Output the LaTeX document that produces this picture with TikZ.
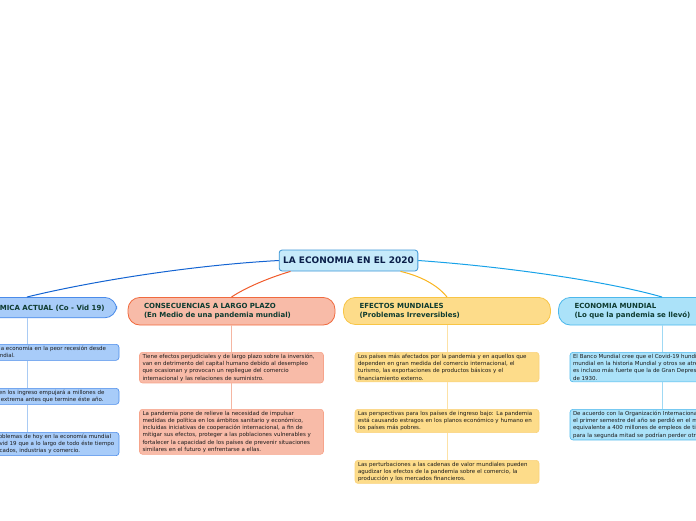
\documentclass[tikz,border=0pt]{standalone}
\usepackage{fontspec}
\setmainfont{DejaVu Sans}

\definecolor{rootfill}{HTML}{C6EAFA}
\definecolor{rootline}{HTML}{3D97D6}
\definecolor{rootink}{HTML}{0B1F4A}
\definecolor{headink}{HTML}{0E3B30}
\definecolor{leafink}{HTML}{1A1A1A}
% one colour set per branch
\definecolor{blueline}{HTML}{1464D2}
\definecolor{bluefill}{HTML}{A8CCF9}
\definecolor{blueedge}{HTML}{4A8BEA}
\definecolor{bluestem}{HTML}{A9CBF4}
\definecolor{redline}{HTML}{F05A2A}
\definecolor{redfill}{HTML}{F8BBA8}
\definecolor{rededge}{HTML}{F06A3E}
\definecolor{redleaf}{HTML}{F6A48B}
\definecolor{redstem}{HTML}{F5B6A2}
\definecolor{yelline}{HTML}{F9B41E}
\definecolor{yelfill}{HTML}{FDDC8A}
\definecolor{yeledge}{HTML}{F8C545}
\definecolor{yelleaf}{HTML}{FAD27A}
\definecolor{yelstem}{HTML}{FDE2A6}
\definecolor{cyaline}{HTML}{18A2E8}
\definecolor{cyafill}{HTML}{ABE2F9}
\definecolor{cyaedge}{HTML}{4CB8EC}
\definecolor{cyastem}{HTML}{9FD9F4}

\tikzset{
  root/.style={draw=rootline, fill=rootfill, rounded corners=3pt, line width=0.8pt,
    inner xsep=4pt, minimum height=21pt, text=rootink,
    font=\fontsize{9}{11}\selectfont\bfseries},
  headbox/.style={rounded corners=12pt, line width=0.8pt, text=headink, align=left,
    inner xsep=16pt, inner ysep=6pt, font=\fontsize{7}{9}\selectfont\bfseries},
  head/.style={headbox, text width=175pt, anchor=north},
  leaf/.style={rounded corners=3pt, line width=0.6pt, text=leafink, align=left,
    inner xsep=3pt, inner ysep=1.6pt, text width=178pt, anchor=north,
    font=\fontsize{5.5}{7.3}\selectfont},
  stem/.style={line width=0.8pt}
}

\begin{document}
\begin{tikzpicture}[x=1pt, y=-1pt]

    \useasboundingbox (0,0) rectangle (696,520);
    \clip (0,0) rectangle (696,520);

    % centre
    \node[root] (root) at (348.5,260.5) {LA ECONOMIA EN EL 2020};

    % situacion actual
    \node[headbox, draw=blueedge, fill=bluefill, anchor=north east, inner xsep=12pt, inner ysep=6.5pt] (blue) at (117,297)
        {SITUACIÓN ECONÓMICA ACTUAL (Co - Vid 19)};
    \node[leaf, draw=blueedge, fill=bluefill] (blue1) at (27,344)
        {La pandemia sumió a la economía en la peor recesión desde\\la Segunda Guerra Mundial.};
    \node[leaf, draw=blueedge, fill=bluefill] (blue2) at (27,388)
        {La pronunciada caída en los ingreso empujará a millones de\\personas a la pobreza extrema antes que termine éste año.};
    \node[leaf, draw=blueedge, fill=bluefill] (blue3) at (27,432)
        {Uno de los grandes problemas de hoy en la economía mundial\\es la pandemia del Covid 19 que a lo largo de todo éste tiempo\\ha golpeado a los mercados, industrias y comercio.};

    % consecuencias
    \node[head, draw=rededge, fill=redfill] (red) at (231.5,297)
        {CONSECUENCIAS A LARGO PLAZO\\(En Medio de una pandemia mundial)};
    \node[leaf, draw=redleaf, fill=redfill] (red1) at (231.5,352)
        {Tiene efectos perjudiciales y de largo plazo sobre la inversión,\\van en detrimento del capital humano debido al desempleo\\que ocasionan y provocan un repliegue del comercio\\internacional y las relaciones de suministro.};
    \node[leaf, draw=redleaf, fill=redfill] (red2) at (231.5,409)
        {La pandemia pone de relieve la necesidad de impulsar\\medidas de política en los ámbitos sanitario y económico,\\incluidas iniciativas de cooperación internacional, a fin de\\mitigar sus efectos, proteger a las poblaciones vulnerables y\\fortalecer la capacidad de los países de prevenir situaciones\\similares en el futuro y enfrentarse a ellas.};

    % efectos
    \node[head, draw=yeledge, fill=yelfill] (yel) at (447,297)
        {EFECTOS MUNDIALES\\(Problemas Irreversibles)};
    \node[leaf, draw=yelleaf, fill=yelfill] (yel1) at (447,352)
        {Los países más afectados por la pandemia y en aquellos que\\dependen en gran medida del comercio internacional, el\\turismo, las exportaciones de productos básicos y el\\financiamiento externo.};
    \node[leaf, draw=yelleaf, fill=yelfill] (yel2) at (447,409)
        {Las perspectivas para los países de ingreso bajo: La pandemia\\está causando estragos en los planos económico y humano en\\los países más pobres.};
    \node[leaf, draw=yelleaf, fill=yelfill] (yel3) at (447,460)
        {Las perturbaciones a las cadenas de valor mundiales pueden\\agudizar los efectos de la pandemia sobre el comercio, la\\producción y los mercados financieros.};

    % economia mundial
    \node[head, draw=cyaedge, fill=cyafill] (cya) at (662,297)
        {ECONOMIA MUNDIAL\\(Lo que la pandemia se llevó)};
    \node[leaf, draw=cyaedge, fill=cyafill] (cya1) at (662,352)
        {El Banco Mundial cree que el Covid-19 hundirá la economía\\mundial en la historia Mundial y otros se atreven a decir que\\es incluso más fuerte que la de Gran Depresión\\de 1930.};
    \node[leaf, draw=cyaedge, fill=cyafill] (cya2) at (662,409)
        {De acuerdo con la Organización Internacional del Trabajo, en\\el primer semestre del año se perdió en el mundo el\\equivalente a 400 millones de empleos de tiempo completo y\\para la segunda mitad se podrían perder otros 140 millones.};

    % branches from the centre
    \draw[blueline, line width=1pt] (root.west) .. controls (180,266) and (80,284) .. (blue1 |- blue.north);
    \draw[redline, line width=1pt] ([xshift=-58pt]root.south) .. controls (268,278) and (245,288) .. (red.north);
    \draw[yelline, line width=1pt] ([xshift=52pt]root.south) .. controls (425,277) and (440,288) .. (yel.north);
    \draw[cyaline, line width=1pt] (root.east) .. controls (510,267) and (610,282) .. (cya.north);

    % stems
    \draw[stem, bluestem] (blue1 |- blue.south) -- (blue1);
    \draw[stem, bluestem] (blue1) -- (blue2);
    \draw[stem, bluestem] (blue2) -- (blue3);
    \draw[stem, redstem] (red) -- (red1);
    \draw[stem, redstem] (red1) -- (red2);
    \draw[stem, yelstem] (yel) -- (yel1);
    \draw[stem, yelstem] (yel1) -- (yel2);
    \draw[stem, yelstem] (yel2) -- (yel3);
    \draw[stem, cyastem] (cya) -- (cya1);
    \draw[stem, cyastem] (cya1) -- (cya2);

\end{tikzpicture}
\end{document}
